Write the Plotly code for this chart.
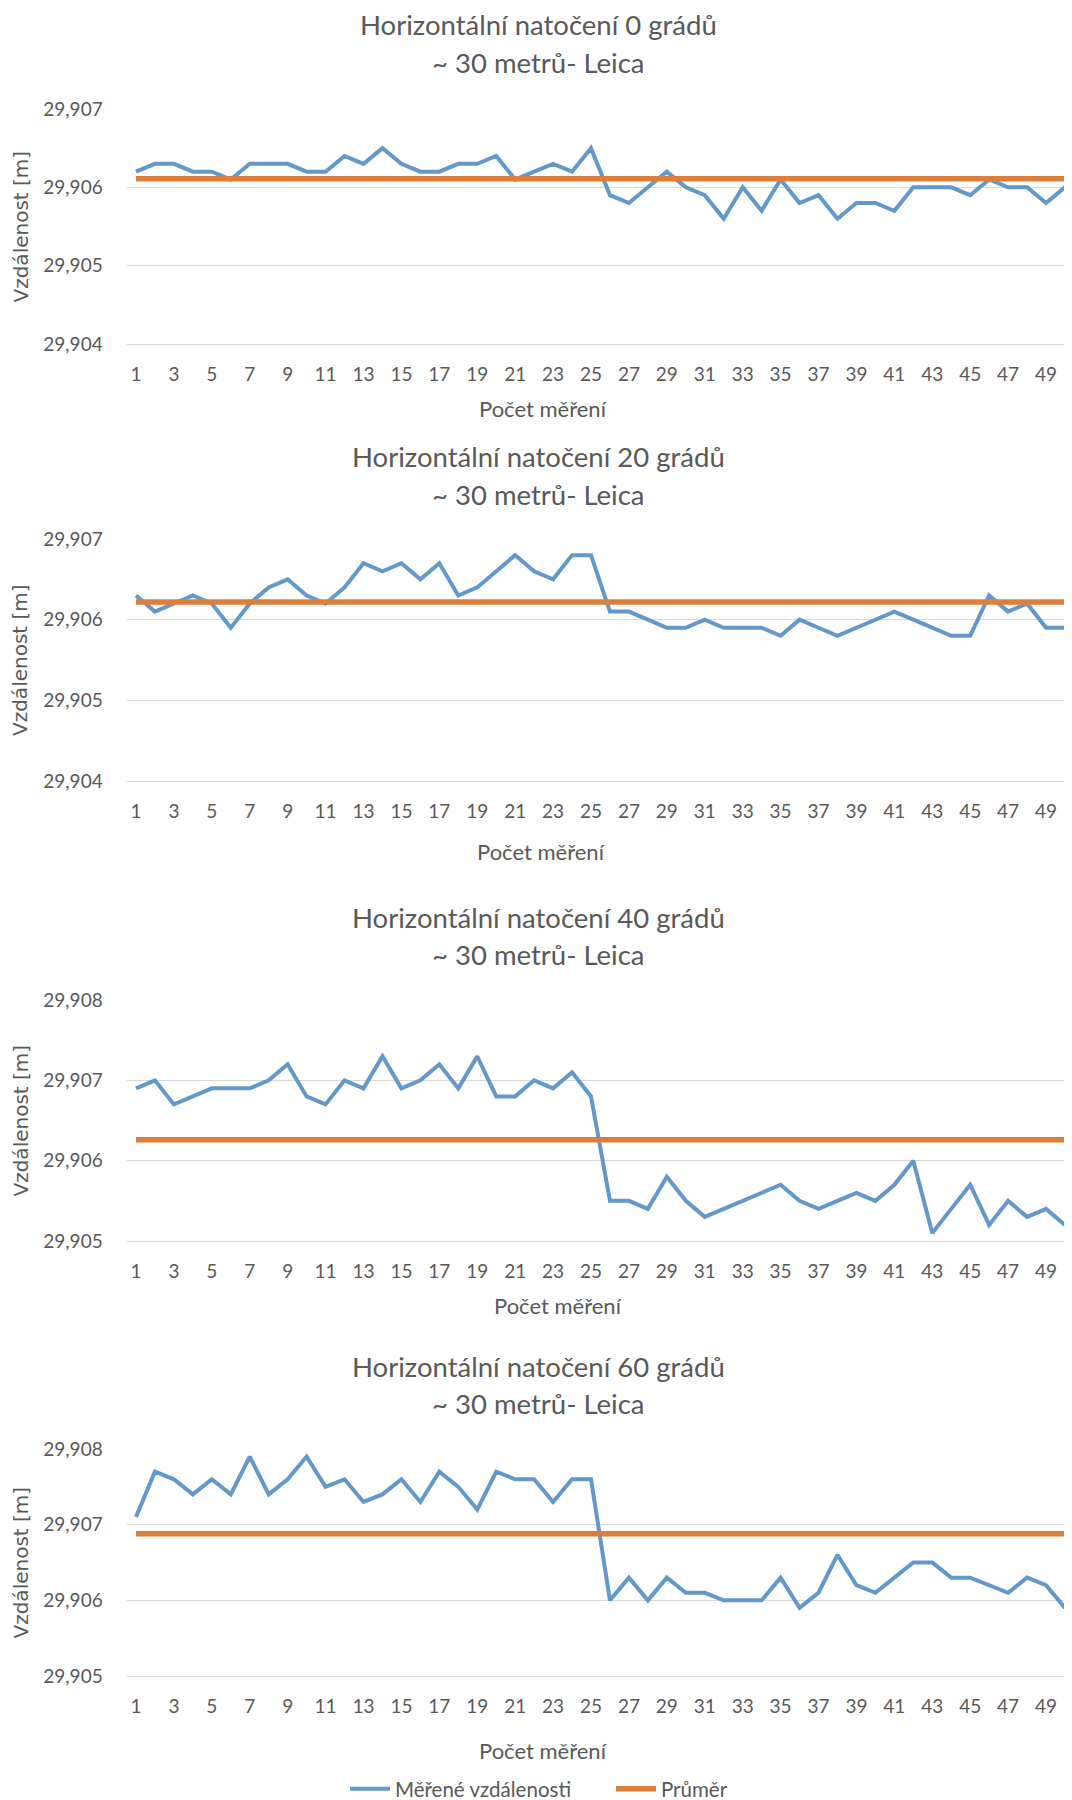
import plotly.graph_objects as go

# ---------------- data ----------------
categories = list(range(1, 51))
x_tick_values = list(range(1, 50, 2))
x_tick_labels = [str(v) for v in x_tick_values]

panel_titles = [
    "Horizontální natočení 0 grádů",
    "Horizontální natočení 20 grádů",
    "Horizontální natočení 40 grádů",
    "Horizontální natočení 60 grádů",
]
panel_subtitle = "~ 30 metrů- Leica"
x_axis_title = "Počet měření"
y_axis_title = "Vzdálenost [m]"
series_names = ["Měřené vzdálenosti", "Průměr"]

y_ticks_0 = [29.904, 29.905, 29.906, 29.907]
y_ticks_20 = [29.904, 29.905, 29.906, 29.907]
y_ticks_40 = [29.905, 29.906, 29.907, 29.908]
y_ticks_60 = [29.905, 29.906, 29.907, 29.908]

values_0 = [
    29.9062, 29.9063, 29.9063, 29.9062, 29.9062, 29.9061, 29.9063, 29.9063, 29.9063, 29.9062,
    29.9062, 29.9064, 29.9063, 29.9065, 29.9063, 29.9062, 29.9062, 29.9063, 29.9063, 29.9064,
    29.9061, 29.9062, 29.9063, 29.9062, 29.9065, 29.9059, 29.9058, 29.9060, 29.9062, 29.9060,
    29.9059, 29.9056, 29.9060, 29.9057, 29.9061, 29.9058, 29.9059, 29.9056, 29.9058, 29.9058,
    29.9057, 29.9060, 29.9060, 29.9060, 29.9059, 29.9061, 29.9060, 29.9060, 29.9058, 29.9060,
]
values_20 = [
    29.9063, 29.9061, 29.9062, 29.9063, 29.9062, 29.9059, 29.9062, 29.9064, 29.9065, 29.9063,
    29.9062, 29.9064, 29.9067, 29.9066, 29.9067, 29.9065, 29.9067, 29.9063, 29.9064, 29.9066,
    29.9068, 29.9066, 29.9065, 29.9068, 29.9068, 29.9061, 29.9061, 29.9060, 29.9059, 29.9059,
    29.9060, 29.9059, 29.9059, 29.9059, 29.9058, 29.9060, 29.9059, 29.9058, 29.9059, 29.9060,
    29.9061, 29.9060, 29.9059, 29.9058, 29.9058, 29.9063, 29.9061, 29.9062, 29.9059, 29.9059,
]
values_40 = [
    29.9069, 29.9070, 29.9067, 29.9068, 29.9069, 29.9069, 29.9069, 29.9070, 29.9072, 29.9068,
    29.9067, 29.9070, 29.9069, 29.9073, 29.9069, 29.9070, 29.9072, 29.9069, 29.9073, 29.9068,
    29.9068, 29.9070, 29.9069, 29.9071, 29.9068, 29.9055, 29.9055, 29.9054, 29.9058, 29.9055,
    29.9053, 29.9054, 29.9055, 29.9056, 29.9057, 29.9055, 29.9054, 29.9055, 29.9056, 29.9055,
    29.9057, 29.9060, 29.9051, 29.9054, 29.9057, 29.9052, 29.9055, 29.9053, 29.9054, 29.9052,
]
values_60 = [
    29.9071, 29.9077, 29.9076, 29.9074, 29.9076, 29.9074, 29.9079, 29.9074, 29.9076, 29.9079,
    29.9075, 29.9076, 29.9073, 29.9074, 29.9076, 29.9073, 29.9077, 29.9075, 29.9072, 29.9077,
    29.9076, 29.9076, 29.9073, 29.9076, 29.9076, 29.9060, 29.9063, 29.9060, 29.9063, 29.9061,
    29.9061, 29.9060, 29.9060, 29.9060, 29.9063, 29.9059, 29.9061, 29.9066, 29.9062, 29.9061,
    29.9063, 29.9065, 29.9065, 29.9063, 29.9063, 29.9062, 29.9061, 29.9063, 29.9062, 29.9059,
]
mean_values = [29.90611, 29.90622, 29.90626, 29.90688]

# ---------------- style / layout ----------------
BLUE = "#6398C8"
ORANGE = "#DD7F3A"
GRID = "#D9D9D9"
TEXT = "#595959"
FONT = "Lato"

# page offset caused by the default body margin of the html page
OX, OY = 8, 8
FW, FH = 1072 - OX, 1800 - OY

def px_x(x):
    return (x - OX) / FW

def px_y(y):
    return 1 - (y - OY) / FH

# (plot top px, plot bottom px, title line1 px, title line2 px, x-title px, x-title center px)
panel_px = [
    (109, 344, 25, 62, 409, 543),
    (539, 781, 456, 494, 852, 541),
    (1000, 1241, 917, 954, 1305, 558),
    (1449, 1676, 1366, 1403, 1750, 543),
]
all_values = [values_0, values_20, values_40, values_60]
all_yticks = [y_ticks_0, y_ticks_20, y_ticks_40, y_ticks_60]

x_left_px = 126.5
title_cx = 538

fig = go.Figure()
annotations = []
layout = {}

for i in range(4):
    sfx = "" if i == 0 else str(i + 1)
    top, bottom, t1, t2, xt, xtc = panel_px[i]
    vals = all_values[i]
    yt = all_yticks[i]

    fig.add_trace(go.Scatter(
        x=categories, y=vals, mode="lines",
        line=dict(color=BLUE, width=4),
        name=series_names[0], legendgroup="m", showlegend=(i == 0),
        xaxis="x" + sfx, yaxis="y" + sfx, hoverinfo="skip",
    ))
    fig.add_trace(go.Scatter(
        x=categories, y=[mean_values[i]] * len(categories), mode="lines",
        line=dict(color=ORANGE, width=5.5),
        name=series_names[1], legendgroup="p", showlegend=(i == 0),
        xaxis="x" + sfx, yaxis="y" + sfx, hoverinfo="skip",
    ))

    layout["xaxis" + sfx] = dict(
        domain=[px_x(x_left_px), 1.0], range=[0.5, 50.37], anchor="y" + sfx,
        tickmode="array", tickvals=x_tick_values, ticktext=x_tick_labels,
        showgrid=False, zeroline=False, showline=True, linecolor=GRID, linewidth=1,
        ticks="outside", ticklen=13, tickcolor="rgba(0,0,0,0)", automargin=False,
        tickfont=dict(family=FONT, size=19, color=TEXT), fixedrange=True,
    )
    layout["yaxis" + sfx] = dict(
        domain=[px_y(bottom), px_y(top)], range=[yt[0], yt[-1]], anchor="x" + sfx,
        tickmode="array", tickvals=yt, tickformat=".3f",
        showgrid=True, gridcolor=GRID, gridwidth=1, zeroline=False, showline=False,
        ticks="outside", ticklen=19, tickcolor="rgba(0,0,0,0)", automargin=False,
        tickfont=dict(family=FONT, size=19, color=TEXT), fixedrange=True,
    )

    annotations.append(dict(
        text=panel_titles[i], x=px_x(title_cx), y=px_y(t1), xref="paper", yref="paper",
        xanchor="center", yanchor="middle", showarrow=False,
        font=dict(family=FONT, size=27.5, color=TEXT),
    ))
    annotations.append(dict(
        text=panel_subtitle, x=px_x(title_cx), y=px_y(t2), xref="paper", yref="paper",
        xanchor="center", yanchor="middle", showarrow=False,
        font=dict(family=FONT, size=27.5, color=TEXT),
    ))
    annotations.append(dict(
        text=x_axis_title, x=px_x(xtc), y=px_y(xt), xref="paper", yref="paper",
        xanchor="center", yanchor="middle", showarrow=False,
        font=dict(family=FONT, size=22, color=TEXT),
    ))
    annotations.append(dict(
        text=y_axis_title, x=px_x(20), y=px_y((top + bottom) / 2), xref="paper", yref="paper",
        xanchor="center", yanchor="middle", showarrow=False, textangle=-90,
        font=dict(family="DejaVu Sans", size=20, color=TEXT),
    ))

fig.update_layout(
    width=FW, height=FH,
    autosize=False,
    margin=dict(l=0, r=0, t=0, b=0, pad=0, autoexpand=False),
    paper_bgcolor="white", plot_bgcolor="white",
    separators=", ",
    annotations=annotations,
    showlegend=True,
    legend=dict(
        orientation="h", x=px_x(345), xanchor="left", y=px_y(1789), yanchor="middle",
        font=dict(family=FONT, size=20.5, color=TEXT), itemwidth=40,
        entrywidth=211, entrywidthmode="pixels",
        bgcolor="rgba(0,0,0,0)",
    ),
    **layout,
)

fig.write_html("out.html")
